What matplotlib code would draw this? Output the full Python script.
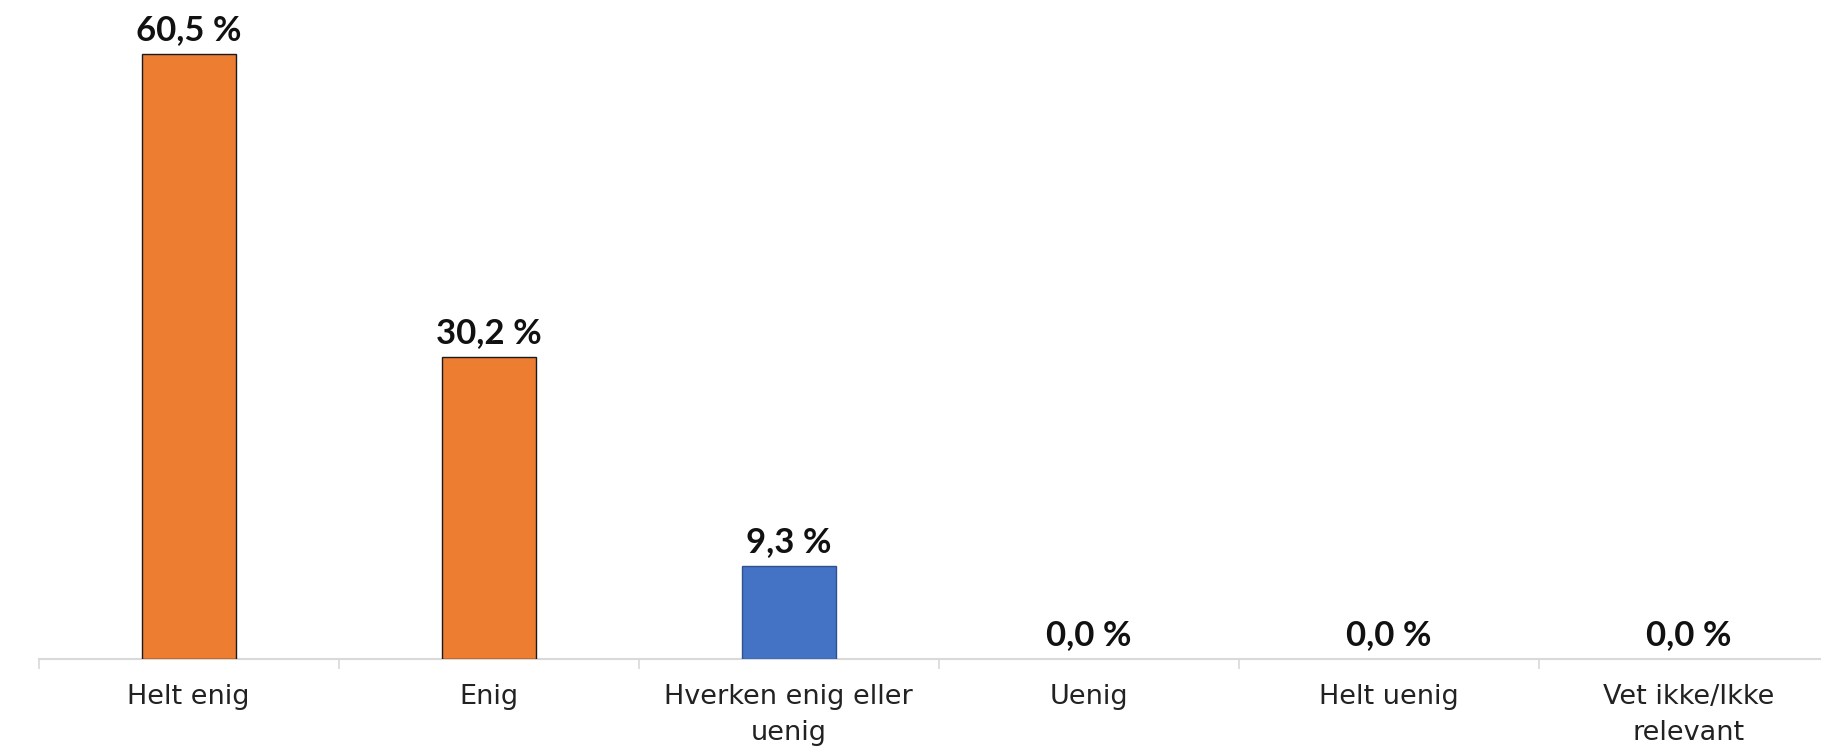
import matplotlib
matplotlib.use("Agg")
import matplotlib.pyplot as plt
import numpy as np

# data
categories = ["Helt enig", "Enig", "Hverken enig eller\nuenig", "Uenig",
              "Helt uenig", "Vet ikke/Ikke\nrelevant"]
values = [60.5, 30.2, 9.3, 0.0, 0.0, 0.0]
colors = ["#ED7D31", "#ED7D31", "#4472C4", "#ED7D31", "#ED7D31", "#ED7D31"]
edges = ["#1a1a1a", "#1a1a1a", "#2F528F", "#1a1a1a", "#1a1a1a", "#1a1a1a"]

W, H = 1821, 748
fig = plt.figure(figsize=(W / 100, H / 100), dpi=100)
ax = fig.add_axes([38.7 / W, 89 / H, 1800 / W, 659 / H])

x = np.arange(len(categories))
bars = ax.bar(x, values, width=0.313, color=colors, edgecolor=edges,
              linewidth=[1.0 if v > 0 else 0 for v in values], zorder=3)

ax.set_xlim(-0.5, len(categories) - 0.5)
ax.set_ylim(0, 65.9)

for b, v in zip(bars, values):
    ax.annotate(f"{v:.1f} %".replace(".", ","), (b.get_x() + b.get_width() / 2, v),
                xytext=(0, 6), textcoords="offset points", ha="center", va="bottom",
                fontsize=25, fontweight="bold", family="Lato", color="#111111")

for s in ["top", "left", "right"]:
    ax.spines[s].set_visible(False)
ax.spines["bottom"].set_color("#d9d9d9")
ax.spines["bottom"].set_linewidth(1.5)
ax.set_yticks([])

ax.set_xticks(x)
ax.set_xticklabels(categories, fontsize=19.5, family="DejaVu Sans", color="#222222",
                   linespacing=1.5)
ax.tick_params(axis="x", which="major", length=0, pad=18)
ax.set_xticks(np.arange(-0.5, len(categories), 1.0), minor=True)
ax.tick_params(axis="x", which="minor", length=7, color="#d9d9d9", width=1.2)

fig.savefig("out.png", dpi=100)
